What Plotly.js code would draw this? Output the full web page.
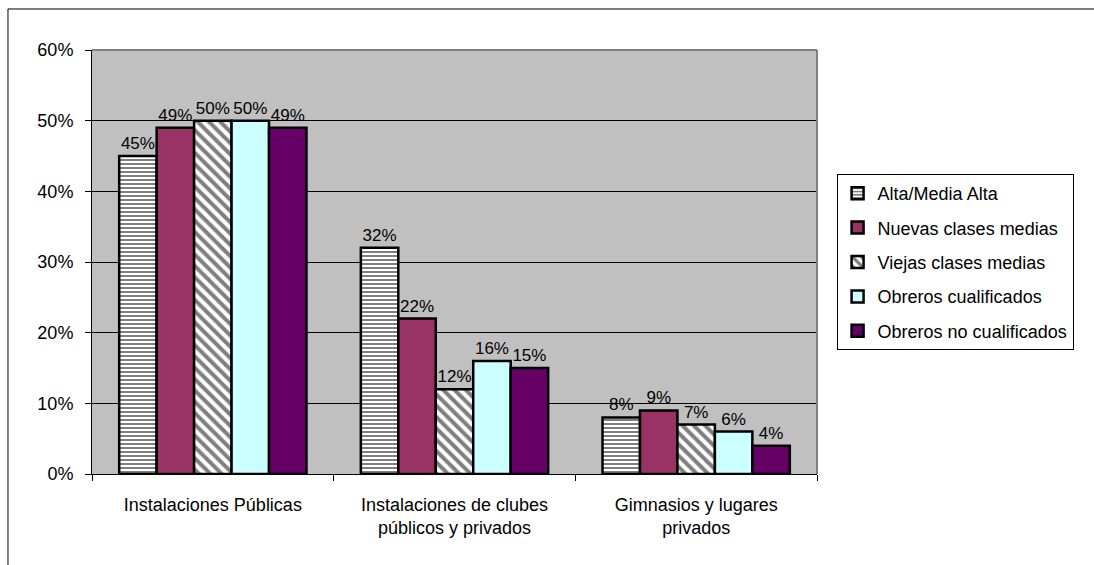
<!DOCTYPE html>
<html>
<head>
<meta charset="utf-8">
<script src="https://cdn.plot.ly/plotly-3.0.1.min.js"></script>
<style>html,body{margin:0;padding:0;background:#fff;}#chart{width:1094px;height:565px;}</style>
</head>
<body>
<div id="chart"></div>
<script>
const categories = ["Instalaciones Públicas", "Instalaciones de clubes<br>públicos y privados", "Gimnasios y lugares<br>privados"];
const seriesNames = ["Alta/Media Alta", "Nuevas clases medias", "Viejas clases medias", "Obreros cualificados", "Obreros no cualificados"];
const altaMediaAlta = [0.45, 0.32, 0.08];
const nuevasClasesMedias = [0.49, 0.22, 0.09];
const viejasClasesMedias = [0.50, 0.12, 0.07];
const obrerosCualificados = [0.50, 0.16, 0.06];
const obrerosNoCualificados = [0.49, 0.15, 0.04];
const yTickVals = [0, 0.1, 0.2, 0.3, 0.4, 0.5, 0.6];
const yTickText = ["0%", "10%", "20%", "30%", "40%", "50%", "60%"];

const seriesValues = [altaMediaAlta, nuevasClasesMedias, viejasClasesMedias, obrerosCualificados, obrerosNoCualificados];
const styles = [
  {color: "#ffffff", pattern: {shape: "-", fgcolor: "#000000", bgcolor: "#ffffff", size: 4, solidity: 0.5, fillmode: "overlay"}},
  {color: "#993366"},
  {color: "#ffffff", pattern: {shape: "\\", fgcolor: "#000000", bgcolor: "#ffffff", size: 8, solidity: 0.5, fillmode: "overlay"}},
  {color: "#CCFFFF"},
  {color: "#660066"}
];

const font = "Liberation Sans, Arial, sans-serif";
const traces = seriesValues.map((vals, i) => {
  const m = {color: styles[i].color, line: {color: "#000000", width: 2.5}};
  if (styles[i].pattern) m.pattern = styles[i].pattern;
  return {
    type: "bar",
    name: seriesNames[i],
    x: categories,
    y: vals,
    marker: m,
    text: vals.map(v => Math.round(v * 100) + "%"),
    textposition: "outside",
    textfont: {family: font, size: 17, color: "#000"},
    cliponaxis: false,
    legendgroup: "g" + i,
    hoverinfo: "none"
  };
});

const layout = {
  width: 1094, height: 565,
  margin: {l: 92, r: 277, t: 50, b: 91},
  paper_bgcolor: "#ffffff",
  plot_bgcolor: "#C0C0C0",
  barmode: "group",
  bargap: 0.225,
  bargroupgap: 0,
  font: {family: font, size: 17, color: "#000"},
  showlegend: true,
  legend: {
    x: 1.027, xanchor: "left", y: 0.5, yanchor: "middle",
    bgcolor: "#ffffff", bordercolor: "#000000", borderwidth: 1,
    font: {family: font, size: 18, color: "#000"},
    tracegroupgap: 8,
    itemwidth: 30
  },
  xaxis: {
    type: "category",
    showgrid: false,
    showline: true, linecolor: "#000", linewidth: 1,
    ticks: "outside", tickson: "boundaries", ticklen: 6, tickcolor: "#000",
    tickfont: {family: font, size: 18, color: "#000"},
    ticklabelstandoff: 14,
    fixedrange: true
  },
  yaxis: {
    range: [0, 0.6],
    tickvals: yTickVals, ticktext: yTickText,
    showgrid: true, gridcolor: "#000000", gridwidth: 1,
    showline: true, linecolor: "#000", linewidth: 1,
    ticks: "outside", ticklen: 6, tickcolor: "#000",
    tickfont: {family: font, size: 18, color: "#000"},
    ticklabelstandoff: 8,
    zeroline: false,
    fixedrange: true
  },
  shapes: [
    {type: "line", xref: "paper", yref: "paper", x0: 0, x1: 1, y0: 1, y1: 1, line: {color: "#808080", width: 2}},
    {type: "line", xref: "paper", yref: "paper", x0: 1, x1: 1, y0: 0, y1: 1, line: {color: "#808080", width: 2}},
    {type: "line", xref: "paper", yref: "paper", x0: -0.1159, x1: 1.5, y0: 1.0967, y1: 1.0967, line: {color: "#000", width: 1}},
    {type: "line", xref: "paper", yref: "paper", x0: -0.1159, x1: -0.1159, y0: -0.3, y1: 1.0967, line: {color: "#000", width: 1}}
  ]
};

Plotly.newPlot("chart", traces, layout, {displayModeBar: false, staticPlot: true});
</script>
</body>
</html>
